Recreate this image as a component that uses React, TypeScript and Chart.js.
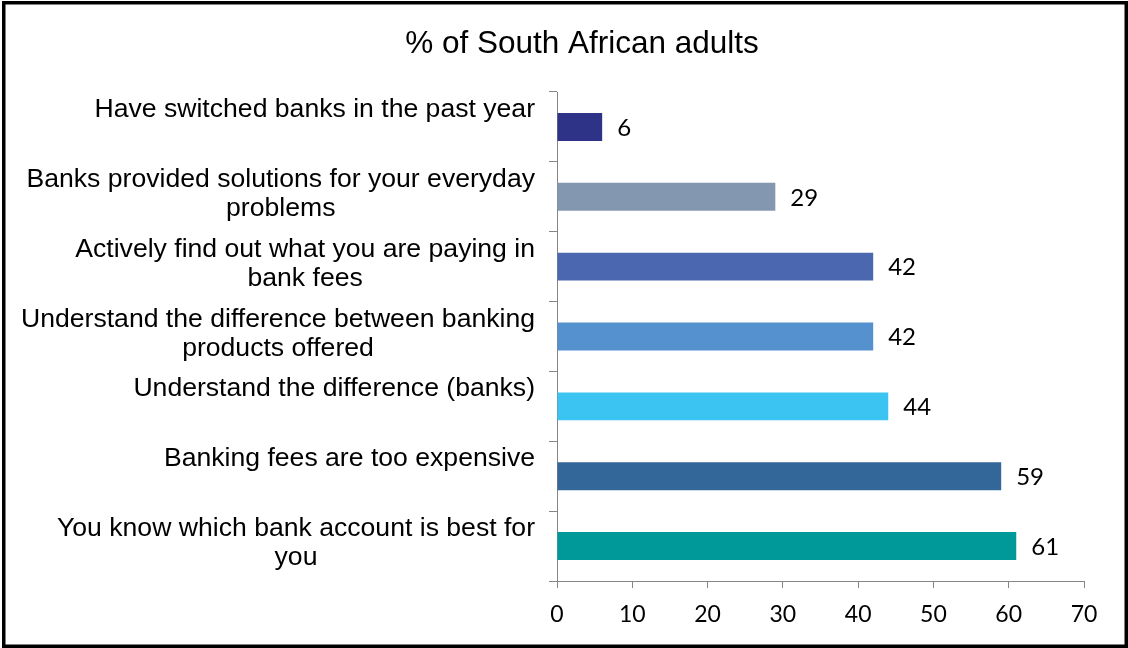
import React, { useEffect, useRef } from "react";
import { Chart, registerables } from "chart.js";

Chart.register(...registerables);

const categories: string[][] = [
  ["Have switched banks in the past year"],
  ["Banks provided solutions for your everyday", "problems"],
  ["Actively find out what you are paying in", "bank fees"],
  ["Understand the difference between banking", "products offered"],
  ["Understand the difference (banks)"],
  ["Banking fees are too expensive"],
  ["You know which bank account is best for", "you"],
];
const values: number[] = [6, 29, 42, 42, 44, 59, 61];
const barColors: string[] = ["#2E3388", "#8497B0", "#4A67B0", "#5590CF", "#3BC4F2", "#336699", "#009999"];
const titleText = "% of South African adults";
const xMin = 0;
const xMax = 70;
const xStep = 10;

const categoryLabelsPlugin = {
  id: "categoryLabels",
  afterDraw(chart: any) {
    const ctx = chart.ctx;
    const y = chart.scales.y;
    ctx.save();
    ctx.font = "26.6px 'Liberation Sans', Arial, sans-serif";
    ctx.fillStyle = "#000000";
    ctx.textBaseline = "alphabetic";
    ctx.textAlign = "center";
    const rightEdge = y.right - 22;
    categories.forEach((lines, i) => {
      const cy = y.getPixelForValue(i);
      const widths = lines.map((l) => ctx.measureText(l).width);
      const maxW = Math.max(...widths);
      const cx = rightEdge - maxW / 2;
      lines.forEach((l, j) => {
        ctx.fillText(l, cx, cy - 10 + j * 29);
      });
    });
    ctx.restore();
  },
};

const valueLabelsPlugin = {
  id: "valueLabels",
  afterDatasetsDraw(chart: any) {
    const ctx = chart.ctx;
    const meta = chart.getDatasetMeta(0);
    ctx.save();
    ctx.font = "24px Lato, 'Open Sans', sans-serif";
    ctx.fillStyle = "#000000";
    ctx.textBaseline = "middle";
    ctx.textAlign = "left";
    meta.data.forEach((bar: any, i: number) => {
      ctx.fillText(String(values[i]), bar.x + 15, bar.y + 1);
    });
    ctx.restore();
  },
};

const frameBorderPlugin = {
  id: "frameBorder",
  afterDraw(chart: any) {
    const ctx = chart.ctx;
    ctx.save();
    ctx.strokeStyle = "#000000";
    ctx.lineWidth = 3.5;
    ctx.strokeRect(3.75, 2.75, chart.width - 5.5, chart.height - 4.5);
    ctx.restore();
  },
};

export default function App() {
  const canvasRef = useRef<HTMLCanvasElement | null>(null);

  useEffect(() => {
    document.body.style.margin = "0";
    const canvas = canvasRef.current;
    if (!canvas) return;
    const chart = new Chart(canvas, {
      type: "bar",
      data: {
        labels: categories.map((c) => c.join(" ")),
        datasets: [
          {
            data: values,
            backgroundColor: barColors,
            borderWidth: 0,
            barPercentage: 0.4,
            categoryPercentage: 1.0,
          },
        ],
      },
      options: {
        indexAxis: "y",
        responsive: false,
        animation: false,
        devicePixelRatio: 1,
        layout: { padding: { left: 80, right: 44, top: 0, bottom: 0 } },
        plugins: {
          legend: { display: false },
          tooltip: { enabled: false },
          title: {
            display: true,
            text: titleText,
            color: "#000000",
            font: { family: "'Liberation Sans', Arial, sans-serif", size: 31.5, weight: "normal", lineHeight: 1.2 },
            padding: { top: 25.5, bottom: 28.7 },
          },
        },
        scales: {
          x: {
            type: "linear",
            min: xMin,
            max: xMax,
            afterFit: (scale: any) => {
              scale.height = 67;
            },
            ticks: {
              stepSize: xStep,
              color: "#000000",
              padding: 13,
              font: { family: "Lato, 'Open Sans', sans-serif", size: 23 },
            },
            grid: {
              drawOnChartArea: false,
              drawTicks: true,
              tickLength: 7,
              color: "#868686",
            },
            border: { display: true, color: "#868686", width: 1 },
          },
          y: {
            type: "category",
            afterFit: (scale: any) => {
              scale.width = 477;
            },
            ticks: { display: false },
            grid: {
              offset: true,
              drawOnChartArea: false,
              drawTicks: true,
              tickLength: 8,
              color: "#868686",
            },
            border: { display: true, color: "#868686", width: 1 },
          },
        },
      },
      plugins: [categoryLabelsPlugin, valueLabelsPlugin, frameBorderPlugin],
    } as any);
    return () => chart.destroy();
  }, []);

  return (
    <div style={{ position: "fixed", left: 0, top: 0, width: 1128, height: 648, background: "#ffffff" }}>
      <canvas ref={canvasRef} width={1128} height={648} style={{ display: "block" }} />
    </div>
  );
}
